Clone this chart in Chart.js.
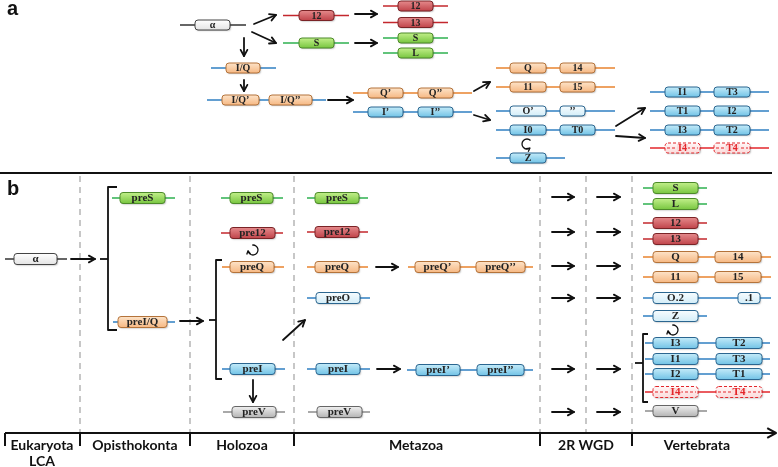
<!DOCTYPE html>
<html>
<head>
<meta charset="utf-8">
<script src="https://cdn.jsdelivr.net/npm/chart.js@4.4.0/dist/chart.umd.min.js"></script>
<style>
html, body { margin: 0; padding: 0; background: #fff; }
#quadro { width: 778px; height: 467px; }
</style>
</head>
<body>
<div id="quadro"><canvas id="diagrama"></canvas></div>
<script>
// Painel a: genes [rótulo, família, início, fim, linha]
const genesA = [
    ['α', 'alfa', 195, 230, 25],
    ['12', 'vermelho', 299, 334, 15.5],
    ['S', 'verde', 299, 334, 43],
    ['I/Q', 'laranja', 226, 260, 68],
    ['I/Q’', 'laranja', 222, 259, 100],
    ['I/Q’’', 'laranja', 269, 312, 100],
    ['12', 'vermelho', 398, 433, 6],
    ['13', 'vermelho', 398, 433, 22.5],
    ['S', 'verde', 398, 433, 38],
    ['L', 'verde', 398, 433, 53],
    ['Q’', 'laranja', 368, 403, 93],
    ['Q’’', 'laranja', 418, 453, 93],
    ['I’', 'azul', 368, 403, 112],
    ['I’’', 'azul', 418, 453, 112],
    ['Q', 'laranja', 510, 546, 68],
    ['14', 'laranja', 560, 595, 68],
    ['11', 'laranja', 510, 546, 87],
    ['15', 'laranja', 560, 595, 87],
    ['O’', 'azulClaro', 510, 546, 111],
    ['’’', 'azulClaro', 560, 585, 111],
    ['I0', 'azul', 510, 546, 130],
    ['T0', 'azul', 560, 595, 130],
    ['Z', 'azul', 510, 546, 158],
    ['I1', 'azul', 665, 700, 92], ['T3', 'azul', 714, 750, 92],
    ['T1', 'azul', 665, 700, 111], ['I2', 'azul', 714, 750, 111],
    ['I3', 'azul', 665, 700, 130], ['T2', 'azul', 714, 750, 130],
    ['I4', 'perdido', 665, 700, 148], ['T4', 'perdido', 714, 750, 148]
];
// [cor, início, fim, linha]
const linhasA = [
    ['preto', 180, 246, 25],
    ['vermelho', 283, 349, 15.5],
    ['verde', 283, 349, 43],
    ['azul', 211, 276, 68],
    ['azul', 207, 326, 100],
    ['vermelho', 383, 448, 6], ['vermelho', 383, 448, 22.5],
    ['verde', 383, 448, 38], ['verde', 383, 448, 53],
    ['laranja', 353, 472, 93], ['azul', 353, 472, 112],
    ['laranja', 496, 615, 68], ['laranja', 496, 615, 87],
    ['azul', 496, 615, 111], ['azul', 496, 615, 130], ['azul', 496, 565, 158],
    ['azul', 650, 769, 92], ['azul', 650, 769, 111], ['azul', 650, 769, 130],
    ['vermelhoVivo', 650, 769, 148]
];
// [x0, y0, x1, y1]
const setasA = [
    [254, 24, 276, 15], [252, 32, 276, 43], [244, 38, 244, 56], [244, 80, 244, 91],
    [328, 100, 353, 100], [355, 14, 377, 14], [355, 43, 377, 43],
    [474, 91, 490, 82], [474, 115, 490, 120], [616, 126, 645, 108], [616, 136, 645, 138]
];

// Painel b
const genesB = [
    ['α', 'alfa', 14, 57, 259],
    ['preS', 'verde', 120, 165, 198],
    ['preI/Q', 'laranja', 118, 167, 322],
    ['preS', 'verde', 230, 273, 198],
    ['pre12', 'vermelho', 230, 275, 233],
    ['preQ', 'laranja', 230, 274, 267],
    ['preI', 'azul', 230, 275, 369],
    ['preV', 'cinza', 232, 276, 412],
    ['preS', 'verde', 315, 359, 198],
    ['pre12', 'vermelho', 315, 359, 232],
    ['preQ', 'laranja', 315, 359, 267],
    ['preQ’', 'laranja', 415, 460, 267],
    ['preQ’’', 'laranja', 476, 525, 267],
    ['preO', 'azulClaro', 316, 360, 298],
    ['preI', 'azul', 316, 360, 369],
    ['preI’', 'azul', 416, 460, 370],
    ['preI’’', 'azul', 477, 524, 370],
    ['preV', 'cinza', 317, 362, 412],
    ['S', 'verde', 653, 698, 188],
    ['L', 'verde', 653, 698, 204],
    ['12', 'vermelho', 653, 698, 223],
    ['13', 'vermelho', 653, 698, 239],
    ['Q', 'laranja', 653, 698, 257], ['14', 'laranja', 715, 761, 257],
    ['11', 'laranja', 653, 698, 277], ['15', 'laranja', 715, 761, 277],
    ['O.2', 'azulClaro', 653, 698, 298], ['.1', 'azulClaro', 738, 760, 298],
    ['Z', 'azulClaro', 653, 698, 316],
    ['I3', 'azul', 653, 698, 343], ['T2', 'azul', 716, 762, 343],
    ['I1', 'azul', 653, 698, 359], ['T3', 'azul', 716, 762, 359],
    ['I2', 'azul', 653, 698, 374], ['T1', 'azul', 716, 762, 374],
    ['I4', 'perdido', 653, 698, 392], ['T4', 'perdido', 716, 762, 392],
    ['V', 'cinza', 653, 698, 411]
];
const linhasB = [
    ['preto', 5, 67, 259],
    ['verde', 112, 175, 198],
    ['azul', 113, 175, 322],
    ['verde', 221, 283, 198], ['vermelho', 221, 283, 233], ['laranja', 222, 284, 267],
    ['azul', 222, 285, 369], ['cinza', 223, 285, 412],
    ['verde', 307, 368, 198], ['vermelho', 307, 368, 232], ['laranja', 307, 368, 267],
    ['laranja', 408, 533, 267], ['azul', 307, 370, 298], ['azul', 307, 370, 369],
    ['azul', 407, 533, 370], ['cinza', 308, 370, 412],
    ['verde', 643, 707, 188], ['verde', 643, 707, 204],
    ['vermelho', 643, 707, 223], ['vermelho', 643, 707, 239],
    ['laranja', 643, 771, 257], ['laranja', 643, 771, 277],
    ['azul', 643, 771, 298], ['azul', 643, 707, 316],
    ['azul', 645, 770, 343], ['azul', 645, 770, 359], ['azul', 645, 770, 374],
    ['vermelhoVivo', 645, 770, 392], ['cinza', 645, 707, 411]
];
const setasB = [
    [71, 259, 95, 259], [180, 321, 203, 321], [376, 267, 398, 267], [377, 369, 400, 369],
    [253, 380, 253, 402], [283, 340, 305, 320],
    [552, 197, 574, 197], [597, 197, 620, 197],
    [552, 232, 574, 232], [597, 232, 620, 232],
    [552, 266, 574, 266], [597, 266, 620, 266],
    [552, 298, 574, 298], [597, 298, 620, 298],
    [552, 369, 574, 369], [597, 369, 620, 369],
    [552, 412, 574, 412], [597, 412, 620, 412]
];
// setas circulares [x, y, sentido]
const giros = [[527, 144, 'anti'], [253, 250, 'horario'], [673, 330, 'horario']];
// colchetes [x, topo, base, fimSerifa, entrada, yEntrada]
const colchetes = [
    [108, 187, 330, 117, 100, 259],
    [216, 260, 379, 222, 209, 320],
    [643, 334, 402, 648, 635, 363]
];
// eixo do tempo
const divisoes = [80, 190, 294, 540, 586, 632];
const marcasEixo = [5, 80, 190, 294, 540, 632];
const etapas = ['Eukaryota', 'Opisthokonta', 'Holozoa', 'Metazoa', '2R WGD', 'Vertebrata'];
const centrosEtapas = [42, 135, 242, 416, 586, 697];

const estilos = {
    alfa:      { fundo: ['#ffffff', '#e4e4e4'], borda: '#444444', texto: '#222' },
    vermelho:  { fundo: ['#e58a8c', '#c0444a'], borda: '#7a2326', texto: '#222' },
    verde:     { fundo: ['#c2ef8a', '#78c640'], borda: '#4d8a2a', texto: '#222' },
    laranja:   { fundo: ['#fde3c8', '#f6b883'], borda: '#b4733a', texto: '#222' },
    azul:      { fundo: ['#c4ebf9', '#72c3e6'], borda: '#2b6690', texto: '#222' },
    azulClaro: { fundo: ['#f7fcff', '#d3edf8'], borda: '#2b6690', texto: '#222' },
    cinza:     { fundo: ['#f0f0f0', '#b4b4b4'], borda: '#666666', texto: '#222' },
    perdido:   { fundo: ['#fff6f6', '#fbdcdc'], borda: '#e3262b', texto: '#e3262b', tracejado: true }
};
const coresLinha = {
    preto: '#333333', vermelho: '#c3272d', verde: '#2eb04f', laranja: '#e8832e',
    azul: '#2f7fc2', cinza: '#8c8c8c', vermelhoVivo: '#e3262b'
};

function desenharLinhas(ctx, sx, sy, lista) {
    ctx.lineWidth = 1.6;
    lista.forEach(function (l) {
        ctx.strokeStyle = coresLinha[l[0]];
        ctx.beginPath();
        ctx.moveTo(sx(l[1]), sy(l[3]));
        ctx.lineTo(sx(l[2]), sy(l[3]));
        ctx.stroke();
    });
}

function desenharGenes(ctx, sx, sy, lista, altura, fonte) {
    lista.forEach(function (g) {
        const e = estilos[g[1]];
        const x0 = sx(g[2]), x1 = sx(g[3]), y = sy(g[4]);
        const topo = y - altura / 2;
        const grad = ctx.createLinearGradient(0, topo, 0, topo + altura);
        grad.addColorStop(0, e.fundo[0]);
        grad.addColorStop(1, e.fundo[1]);
        ctx.save();
        ctx.shadowColor = 'rgba(0,0,0,0.25)';
        ctx.shadowOffsetX = 1;
        ctx.shadowOffsetY = 1;
        ctx.shadowBlur = 1.5;
        ctx.beginPath();
        ctx.roundRect(x0, topo, x1 - x0, altura, 3);
        ctx.fillStyle = grad;
        ctx.fill();
        ctx.restore();
        ctx.save();
        ctx.lineWidth = 1;
        ctx.strokeStyle = e.borda;
        if (e.tracejado) ctx.setLineDash([3, 2]);
        ctx.beginPath();
        ctx.roundRect(x0, topo, x1 - x0, altura, 3);
        ctx.stroke();
        if (e.tracejado) {
            // linha perdida atravessando o gene
            ctx.beginPath();
            ctx.moveTo(x0 + 2, y);
            ctx.lineTo(x1 - 2, y);
            ctx.stroke();
        }
        ctx.restore();
        ctx.font = fonte;
        ctx.textAlign = 'center';
        ctx.textBaseline = 'middle';
        if (e.tracejado) {
            const w = ctx.measureText(g[0]).width;
            ctx.fillStyle = e.fundo[1];
            ctx.fillRect((x0 + x1) / 2 - w / 2 - 1, y - 4, w + 2, 8);
        }
        ctx.fillStyle = e.texto;
        ctx.fillText(g[0], (x0 + x1) / 2, y + 0.5);
    });
}

function ponta(ctx, x, y, ang, tam) {
    ctx.beginPath();
    ctx.moveTo(x - tam * Math.cos(ang - 0.5), y - tam * Math.sin(ang - 0.5));
    ctx.lineTo(x, y);
    ctx.lineTo(x - tam * Math.cos(ang + 0.5), y - tam * Math.sin(ang + 0.5));
    ctx.stroke();
}

function desenharSetas(ctx, sx, sy, lista) {
    ctx.strokeStyle = '#111';
    ctx.lineWidth = 1.8;
    ctx.lineCap = 'round';
    ctx.lineJoin = 'round';
    lista.forEach(function (s) {
        const x0 = sx(s[0]), y0 = sy(s[1]), x1 = sx(s[2]), y1 = sy(s[3]);
        ctx.beginPath();
        ctx.moveTo(x0, y0);
        ctx.lineTo(x1, y1);
        ctx.stroke();
        ponta(ctx, x1, y1, Math.atan2(y1 - y0, x1 - x0), 7);
    });
    ctx.lineCap = 'butt';
}

function desenharGiros(ctx, sx, sy) {
    ctx.strokeStyle = '#111';
    ctx.lineWidth = 1.3;
    giros.forEach(function (g) {
        const cx = sx(g[0]), cy = sy(g[1]), r = 5;
        let a0, a1, anti;
        if (g[2] === 'anti') {
            // aberto à direita, ponta embaixo
            a0 = -0.25 * Math.PI; a1 = 0.3 * Math.PI; anti = true;
        } else {
            // aberto em cima à esquerda, ponta à esquerda
            a0 = -0.55 * Math.PI; a1 = 0.95 * Math.PI; anti = false;
        }
        ctx.beginPath();
        ctx.arc(cx, cy, r, a0, a1, anti);
        ctx.stroke();
        const px = cx + r * Math.cos(a1), py = cy + r * Math.sin(a1);
        const tx = anti ? Math.sin(a1) : -Math.sin(a1);
        const ty = anti ? -Math.cos(a1) : Math.cos(a1);
        ponta(ctx, px, py, Math.atan2(ty, tx), 4);
    });
}

const pluginDiagrama = {
    id: 'diagrama',
    afterDraw: function (chart) {
        const ctx = chart.ctx;
        const ex = chart.scales.x, ey = chart.scales.y;
        const sx = function (v) { return ex.getPixelForValue(v); };
        const sy = function (v) { return ey.getPixelForValue(v); };
        ctx.save();

        // rótulos dos painéis
        ctx.fillStyle = '#111';
        ctx.font = 'bold 20px "Liberation Sans", Arial';
        ctx.textAlign = 'left';
        ctx.textBaseline = 'alphabetic';
        ctx.fillText('a', sx(7), sy(15));
        ctx.fillText('b', sx(7), sy(195));

        // separação entre painéis
        ctx.strokeStyle = '#111';
        ctx.lineWidth = 2;
        ctx.beginPath();
        ctx.moveTo(sx(0), sy(173));
        ctx.lineTo(sx(772), sy(173));
        ctx.stroke();

        // divisões tracejadas
        ctx.save();
        ctx.strokeStyle = '#b5b5b5';
        ctx.lineWidth = 1.5;
        ctx.setLineDash([6, 5]);
        divisoes.forEach(function (x) {
            ctx.beginPath();
            ctx.moveTo(sx(x), sy(176));
            ctx.lineTo(sx(x), sy(432));
            ctx.stroke();
        });
        ctx.restore();

        desenharLinhas(ctx, sx, sy, linhasA);
        desenharLinhas(ctx, sx, sy, linhasB);
        desenharGenes(ctx, sx, sy, genesA, 10, 'bold 10px "Liberation Serif", "DejaVu Serif", serif');
        desenharGenes(ctx, sx, sy, genesB, 11, 'bold 11px "Liberation Serif", "DejaVu Serif", serif');
        desenharSetas(ctx, sx, sy, setasA);
        desenharSetas(ctx, sx, sy, setasB);
        desenharGiros(ctx, sx, sy);

        // colchetes
        ctx.strokeStyle = '#111';
        ctx.lineWidth = 1.8;
        colchetes.forEach(function (c) {
            ctx.beginPath();
            ctx.moveTo(sx(c[3]), sy(c[1]));
            ctx.lineTo(sx(c[0]), sy(c[1]));
            ctx.lineTo(sx(c[0]), sy(c[2]));
            ctx.lineTo(sx(c[3]), sy(c[2]));
            ctx.stroke();
            ctx.beginPath();
            ctx.moveTo(sx(c[4]), sy(c[5]));
            ctx.lineTo(sx(c[0]), sy(c[5]));
            ctx.stroke();
        });

        // eixo do tempo
        ctx.lineWidth = 2;
        ctx.beginPath();
        ctx.moveTo(sx(marcasEixo[0]), sy(433));
        ctx.lineTo(sx(776), sy(433));
        ctx.stroke();
        ponta(ctx, sx(776), sy(433), 0, 10);
        marcasEixo.forEach(function (x) {
            ctx.beginPath();
            ctx.moveTo(sx(x), sy(433));
            ctx.lineTo(sx(x), sy(446));
            ctx.stroke();
        });
        ctx.fillStyle = '#111';
        ctx.font = 'bold 14px Lato, "Open Sans", sans-serif';
        ctx.textAlign = 'center';
        ctx.textBaseline = 'middle';
        etapas.forEach(function (t, i) {
            ctx.fillText(t, sx(centrosEtapas[i]), sy(445));
        });
        ctx.fillText('LCA', sx(centrosEtapas[0]), sy(461));

        ctx.restore();
    }
};

const ctx = document.getElementById('diagrama').getContext('2d');
const chart = new Chart(ctx, {
    type: 'scatter',
    data: { datasets: [{ data: [], pointRadius: 0 }] },
    options: {
        responsive: true,
        maintainAspectRatio: false,
        animation: false,
        devicePixelRatio: 1,
        layout: { padding: 0 },
        plugins: { legend: { display: false }, tooltip: { enabled: false } },
        scales: {
            x: { type: 'linear', min: 0, max: 778, display: false },
            y: { type: 'linear', min: 0, max: 467, reverse: true, display: false }
        }
    },
    plugins: [pluginDiagrama]
});
</script>
</body>
</html>
